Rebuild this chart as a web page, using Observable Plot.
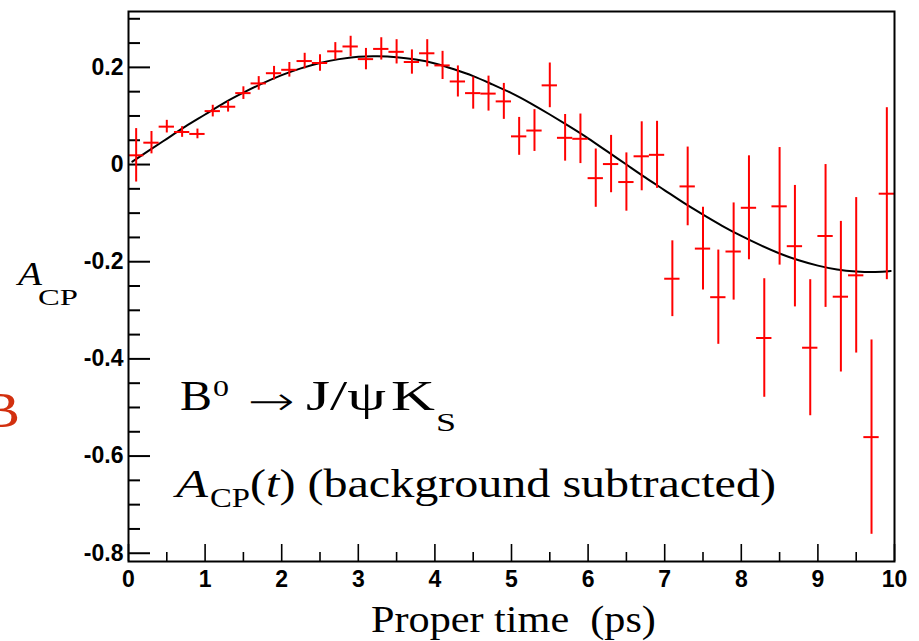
<!DOCTYPE html>
<html>
<head>
<meta charset="utf-8">
<script src="https://cdn.jsdelivr.net/npm/d3@7"></script>
<script src="https://cdn.jsdelivr.net/npm/@observablehq/plot@0.6"></script>
<style>
  html, body { margin: 0; padding: 0; background: #fff; }
  #chart svg { display: block; }
</style>
</head>
<body>
<div id="chart"></div>
<script>
// Bin centres (ps)
const times = [0.1,0.3,0.5,0.7,0.9,1.1,1.3,1.5,1.7,1.9,2.1,2.3,2.5,2.7,2.9,3.1,3.3,3.5,3.7,3.9,
               4.1,4.3,4.5,4.7,4.9,5.1,5.3,5.5,5.7,5.9,6.1,6.3,6.5,6.7,6.9,7.1,7.3,7.5,7.7,7.9,
               8.1,8.3,8.5,8.7,8.9,9.1,9.3,9.5,9.7,9.9];
// Measured asymmetry A_CP
const acp = [0.019,0.045,0.078,0.067,0.063,0.110,0.119,0.147,0.167,0.188,0.195,0.213,0.209,0.233,0.243,0.217,0.238,0.232,0.211,0.229,
             0.204,0.171,0.147,0.146,0.130,0.058,0.070,0.163,0.055,0.053,-0.028,0.001,-0.036,0.017,0.020,-0.235,-0.045,-0.173,-0.273,-0.179,
             -0.089,-0.357,-0.086,-0.168,-0.377,-0.147,-0.272,-0.228,-0.561,-0.060];
// Statistical errors on A_CP
const acpErr = [0.055,0.023,0.013,0.011,0.010,0.012,0.011,0.013,0.014,0.014,0.015,0.016,0.017,0.018,0.021,0.022,0.023,0.025,0.025,0.028,
                0.029,0.032,0.033,0.036,0.037,0.039,0.043,0.046,0.048,0.051,0.060,0.059,0.060,0.071,0.069,0.078,0.081,0.085,0.097,0.100,
                0.107,0.122,0.121,0.125,0.140,0.147,0.155,0.160,0.200,0.177];
const binHalfWidth = 0.1;

// Fit curve
const fitT = [0.05,0.25,0.5,0.75,1.0,1.25,1.5,1.75,2.0,2.25,2.5,2.75,3.0,3.25,3.5,3.75,4.0,4.25,4.5,4.75,
              5.0,5.25,5.5,5.75,6.0,6.25,6.5,6.75,7.0,7.25,7.5,7.75,8.0,8.25,8.5,8.75,9.0,9.25,9.5,9.75,9.95];
const fitA = [0.006,0.027,0.053,0.079,0.103,0.127,0.148,0.167,0.184,0.198,0.209,0.217,0.222,0.223,0.221,0.216,0.208,0.196,0.182,0.165,
              0.147,0.126,0.103,0.079,0.054,0.027,0.000,-0.027,-0.053,-0.079,-0.103,-0.126,-0.147,-0.166,-0.183,-0.197,-0.208,-0.216,-0.220,-0.221,-0.219];

// Axis ticks
const xMajor = [0,1,2,3,4,5,6,7,8,9,10];
const xMinor = [0.5,1.5,2.5,3.5,4.5,5.5,6.5,7.5,8.5,9.5];
const yMajor = [-0.8,-0.6,-0.4,-0.2,0,0.2];
const yMinor = [-0.75,-0.7,-0.65,-0.55,-0.5,-0.45,-0.35,-0.3,-0.25,-0.15,-0.1,-0.05,0.05,0.1,0.15,0.25,0.3];

const points = times.map((t, i) => ({t, a: acp[i], e: acpErr[i]}));
const fit = fitT.map((t, i) => ({t, a: fitA[i]}));

const W = 919, H = 641;
const mL = 128, mR = 25, mT = 11, mB = 80;
const fw = W - mL - mR, fh = H - mT - mB;

const chart = Plot.plot({
  width: W, height: H,
  marginLeft: mL, marginRight: mR, marginTop: mT, marginBottom: mB,
  x: {domain: [0, 10]},
  y: {domain: [-0.817, 0.315]},
  style: {fontFamily: "'Liberation Sans', Arial, sans-serif", fontSize: "22px", fontWeight: "bold", background: "#fff"},
  marks: [
    // tick marks (inside the frame)
    Plot.ruleY(yMajor, {y: d => d, insetRight: fw - 22, stroke: "#000", strokeWidth: 2}),
    Plot.ruleY(yMinor, {y: d => d, insetRight: fw - 12, stroke: "#000", strokeWidth: 2}),
    Plot.ruleX(xMajor, {x: d => d, insetTop: fh - 17, stroke: "#000", strokeWidth: 1.6}),
    Plot.ruleX(xMinor, {x: d => d, insetTop: fh - 9, stroke: "#000", strokeWidth: 1.6}),
    Plot.axisX({ticks: xMajor, tickSize: 0, tickPadding: 9, label: null, fontSize: 23, fontWeight: "bold", tickFormat: d => String(d)}),
    Plot.axisY({ticks: yMajor, tickSize: 0, tickPadding: 5, label: null, fontSize: 23, fontWeight: "bold",
                tickFormat: d => d === 0 ? "0" : d.toFixed(1)}),
    // fit curve
    Plot.line(fit, {x: "t", y: "a", curve: "natural", stroke: "#000", strokeWidth: 2}),
    // data with error bars
    Plot.ruleX(points, {x: "t", y1: d => d.a - d.e, y2: d => d.a + d.e, stroke: "#ff0000", strokeWidth: 2}),
    Plot.ruleY(points, {y: "a", x1: d => d.t - binHalfWidth, x2: d => d.t + binHalfWidth, stroke: "#ff0000", strokeWidth: 2}),
    Plot.frame({stroke: "#000", strokeWidth: 2})
  ]
});

document.getElementById("chart").appendChild(chart);

// Annotations (Times-like serif text), stretched horizontally to the reference widths
const svg = d3.select(chart);
const g = svg.append("g")
  .attr("font-family", "'Liberation Serif', 'Times New Roman', serif")
  .attr("font-weight", "normal")
  .attr("text-anchor", "start")
  .attr("fill", "#000");

function fitWidth(t, x, y, width) {
  const w = t.node().getComputedTextLength() || width;
  t.attr("x", 0).attr("y", 0)
   .attr("transform", `translate(${x},${y}) scale(${width / w},1)`);
  return t;
}

function txt(x, y, s, size, width, opts = {}) {
  const t = g.append("text").attr("font-size", size).text(s);
  if (opts.italic) t.attr("font-style", "italic");
  if (opts.fill) t.attr("fill", opts.fill);
  if (opts.family) t.attr("font-family", opts.family);
  if (opts.weight) t.attr("font-weight", opts.weight);
  if (opts.pre) t.style("white-space", "pre");
  return fitWidth(t, x, y, width);
}

// y-axis title A_CP
txt(18, 285, "A", 34, 24, {italic: true});
txt(38, 305, "CP", 23, 40);

// partially visible red letter at left edge
txt(-18, 427, "B", 50, 38, {fill: "#d2300f"});

// Decay label
txt(180, 410, "B", 42, 32);
txt(213, 396, "0", 24, 16);
txt(248, 415, "\u2192", 40, 47, {family: "'DejaVu Sans', sans-serif", weight: 200});
txt(306, 410, "J/\u03C8", 42, 80);
txt(391, 410, "K", 42, 44);
txt(436, 431, "S", 25, 20);

// A_CP(t) (background subtracted)
txt(176, 497, "A", 41, 32, {italic: true});
txt(210, 507, "CP", 27, 40);
const t2 = g.append("text").attr("font-size", 40);
t2.append("tspan").text("(");
t2.append("tspan").attr("font-style", "italic").text("t");
t2.append("tspan").text(") (background subtracted)");
fitWidth(t2, 250, 497, 526);

// x-axis title
txt(371, 632, "Proper time  (ps)", 37, 285, {pre: true});
</script>
</body>
</html>
